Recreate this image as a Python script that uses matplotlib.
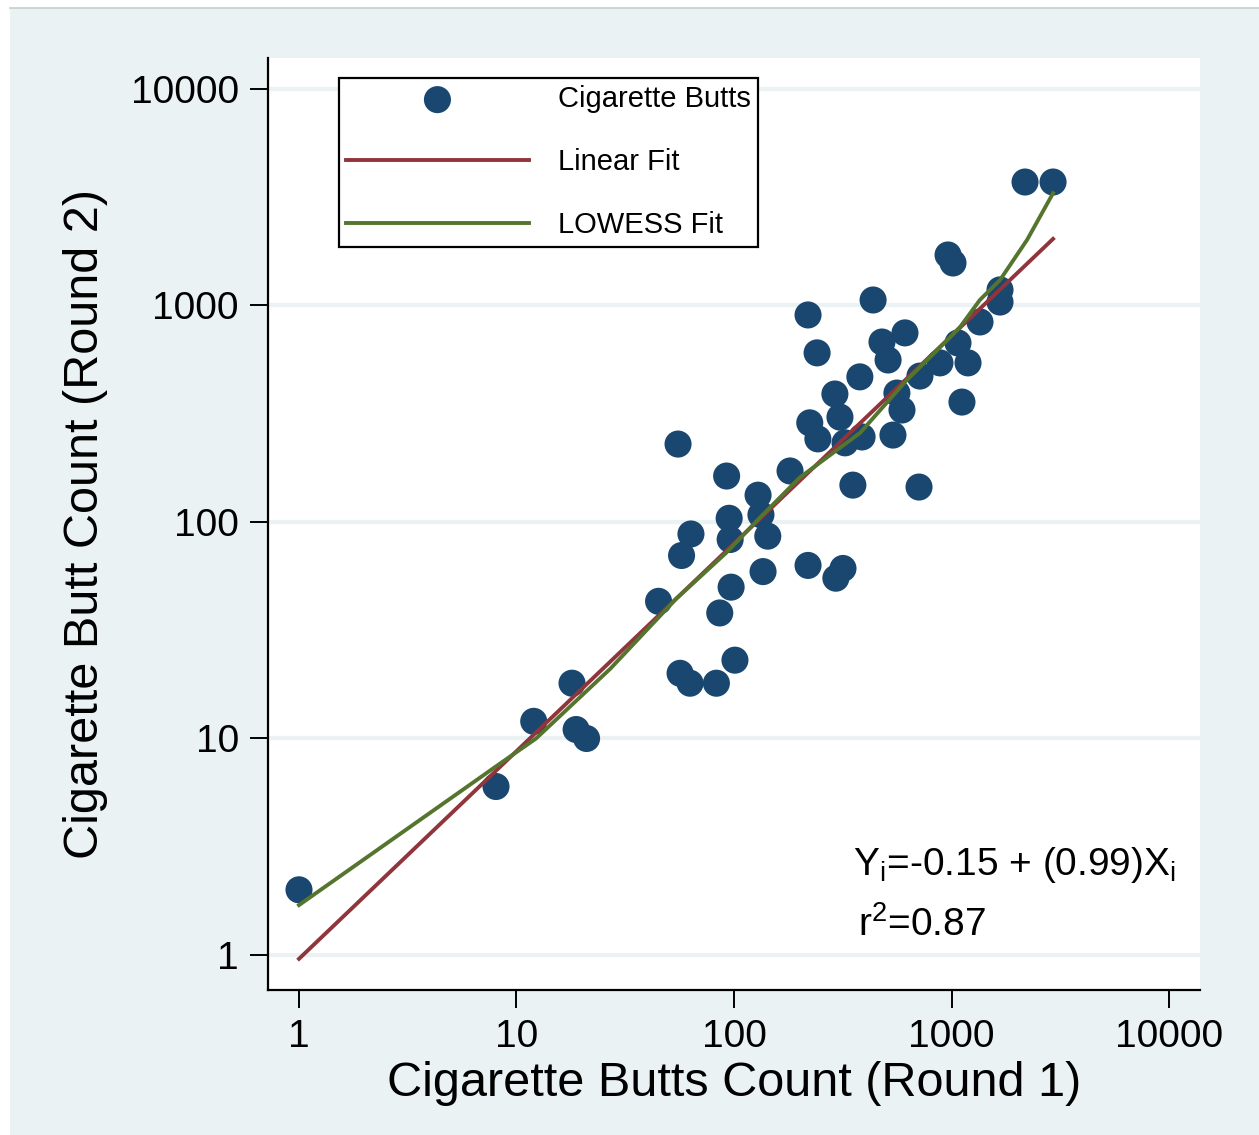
import numpy as np
import matplotlib
matplotlib.use("Agg")
import matplotlib.pyplot as plt
from matplotlib.patches import Rectangle
from matplotlib.ticker import FixedLocator, FixedFormatter, NullLocator

plt.rcParams['font.family'] = ['Liberation Sans', 'DejaVu Sans']
plt.rcParams['mathtext.fontset'] = 'custom'
plt.rcParams['mathtext.rm'] = 'Liberation Sans'

# ---- data ----
round1 = [1, 8.05, 12, 18, 18.8, 21, 45, 55.3, 56.5, 57.4, 62.8, 63.4, 83, 86,
          92.5, 95, 96, 97, 101, 129, 133, 136, 143, 181, 219, 219, 223, 241,
          243, 291, 294, 307, 317, 324, 352, 379, 388, 436, 479, 511, 538, 561,
          592, 611, 709, 716, 885, 964, 1016, 1071, 1117, 1191, 1352, 1671,
          1671, 2178, 2930]
round2 = [2.0, 6.0, 12, 18, 11, 10, 43, 229, 20, 70, 18, 88, 18, 38,
          163, 104, 83, 50, 23, 133, 108, 59, 86, 172, 904, 63, 287, 604,
          242, 390, 55, 305, 61, 232, 148, 468, 247, 1060, 678, 560, 252, 394,
          329, 747, 145, 472, 543, 1711, 1571, 671, 358, 543, 839, 1180,
          1037, 3717, 3717]

linear_x = [1, 2930]
linear_y = [0.96, 2030]

lowess_x = [1, 8, 12.3, 27, 54, 92, 132, 200, 380, 620, 885, 1100, 1350, 1670, 2225, 2930]
lowess_y = [1.70, 7.4, 10.0, 21, 44, 72, 105, 160, 258, 450, 640, 800, 1060, 1310, 2008, 3300]

tick_vals = [1, 10, 100, 1000, 10000]
tick_labels = ["1", "10", "100", "1000", "10000"]

equation_text = r"Y$_\mathregular{i}$=-0.15 + (0.99)X$_\mathregular{i}$"
r2_text = r"r$^\mathregular{2}$=0.87"

# ---- style ----
BG = "#eaf2f3"
NAVY = "#1a476f"
MAROON = "#90353b"
GREEN = "#55752f"

W, H = 1259, 1135
fig = plt.figure(figsize=(W / 100, H / 100), dpi=100, facecolor="white")
fig.patches.append(Rectangle((10 / W, 0), 1 - 10 / W, 1 - 8 / H, transform=fig.transFigure,
                             facecolor=BG, edgecolor="none", zorder=-10))
fig.add_artist(plt.Line2D([10 / W, 1], [1 - 8 / H, 1 - 8 / H], transform=fig.transFigure,
                          color="#c8cccd", lw=1.2, zorder=-9))

ax = fig.add_axes([268 / W, 1 - 990 / H, 932 / W, 932 / H])
ax.set_zorder(1)
ax.set_facecolor("white")
ax.set_xscale("log")
ax.set_yscale("log")
ax.set_xlim(10 ** -0.1425, 10 ** 4.1425)
ax.set_ylim(10 ** -0.1617, 10 ** 4.143)

for s in ["top", "right"]:
    ax.spines[s].set_visible(False)
for s in ["left", "bottom"]:
    ax.spines[s].set_linewidth(1.6)
    ax.spines[s].set_color("black")

ax.xaxis.set_major_locator(FixedLocator(tick_vals))
ax.xaxis.set_major_formatter(FixedFormatter(tick_labels))
ax.yaxis.set_major_locator(FixedLocator(tick_vals))
ax.yaxis.set_major_formatter(FixedFormatter(tick_labels))
ax.xaxis.set_minor_locator(NullLocator())
ax.yaxis.set_minor_locator(NullLocator())
ax.tick_params(axis="both", which="major", length=13, width=1.4, labelsize=28, pad=8,
               direction="out", colors="black")

ax.grid(axis="y", which="major", color=BG, lw=3.0, zorder=0)
ax.set_axisbelow(True)

sc = ax.scatter(round1, round2, s=380, color=NAVY, edgecolors="none", zorder=3,
                label="Cigarette Butts")
l1, = ax.plot(linear_x, linear_y, color=MAROON, lw=2.8, zorder=4, label="Linear Fit")
l2, = ax.plot(lowess_x, lowess_y, color=GREEN, lw=2.8, zorder=5, label="LOWESS Fit")

ax.set_xlabel("Cigarette Butts Count (Round 1)", fontsize=35, labelpad=4)
ax.set_ylabel("Cigarette Butt Count (Round 2)", fontsize=35, labelpad=16)

leg = ax.legend(handles=[sc, l1, l2], loc="upper left",
                bbox_to_anchor=((339 - 268) / 932, (990 - 78) / 932),
                fontsize=21, frameon=True, fancybox=False, framealpha=1,
                edgecolor="black", handlelength=6.25, handletextpad=1.0,
                labelspacing=1.2, borderpad=0.25, borderaxespad=0,
                scatterpoints=1, markerscale=1.0)
leg.get_frame().set_linewidth(1.6)

ax.text((853 - 268) / 932, (990 - 875) / 932, equation_text, transform=ax.transAxes,
        fontsize=28, va="baseline", ha="left")
ax.text((858 - 268) / 932, (990 - 936) / 932, r2_text, transform=ax.transAxes,
        fontsize=28, va="baseline", ha="left")

fig.savefig("out.png", dpi=100, facecolor=fig.get_facecolor())
